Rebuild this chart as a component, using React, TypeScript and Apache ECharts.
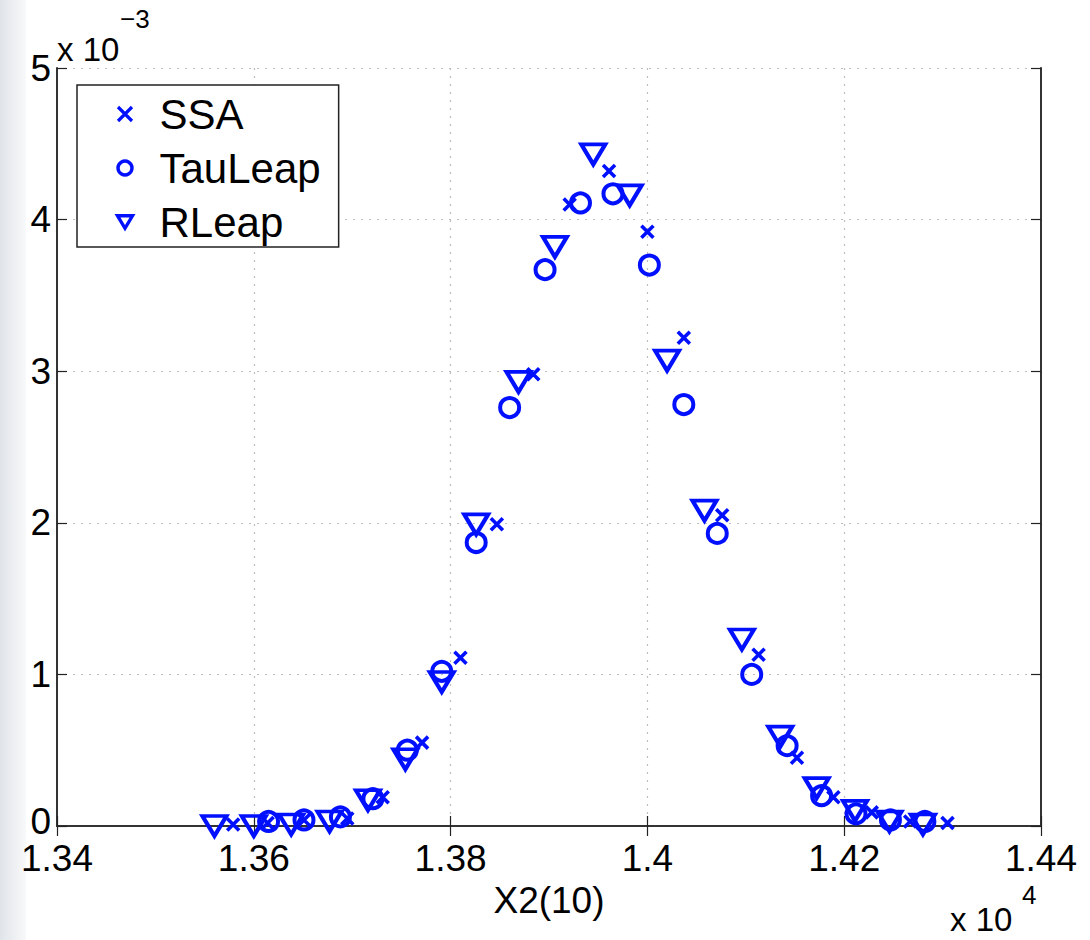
import React, { useEffect, useRef } from "react";
import * as echarts from "echarts";

// x values are in units of 1e4, y values in units of 1e-3 (as on the axes)
const ssaX = [1.3579, 1.3614, 1.3651, 1.3695, 1.3731, 1.3771, 1.381, 1.3847, 1.3884, 1.3921, 1.3961, 1.4, 1.4037, 1.4076, 1.4113, 1.4152, 1.4189, 1.4228, 1.4267, 1.4305];
const ssaY = [0.01, 0.02, 0.04, 0.05, 0.19, 0.55, 1.11, 1.99, 2.98, 4.1, 4.32, 3.92, 3.22, 2.05, 1.13, 0.45, 0.19, 0.09, 0.03, 0.02];

const tauX = [1.3615, 1.3651, 1.3688, 1.3721, 1.3756, 1.3791, 1.3826, 1.386, 1.3896, 1.3932, 1.3965, 1.4002, 1.4037, 1.4071, 1.4106, 1.4142, 1.4177, 1.4212, 1.4247, 1.4282];
const tauY = [0.03, 0.04, 0.06, 0.18, 0.5, 1.02, 1.87, 2.76, 3.67, 4.11, 4.17, 3.7, 2.78, 1.93, 1.0, 0.53, 0.2, 0.08, 0.04, 0.03];

const rleapX = [1.356, 1.36, 1.3638, 1.3677, 1.3716, 1.3754, 1.3791, 1.3826, 1.3869, 1.3906, 1.3945, 1.3982, 1.402, 1.4058, 1.4096, 1.4135, 1.4172, 1.4211, 1.4246, 1.428];
const rleapY = [0.0, 0.0, 0.01, 0.03, 0.17, 0.44, 0.95, 1.99, 2.93, 3.82, 4.43, 4.16, 3.07, 2.08, 1.23, 0.59, 0.25, 0.1, 0.03, 0.01];

const seriesNames = ["SSA", "TauLeap", "RLeap"];
const xAxisName = "X2(10)";
const xMin = 1.34, xMax = 1.44, xStep = 0.02;
const yMin = 0, yMax = 5, yStep = 1;
const yExponent = "x 10";
const yExponentPower = "\u22123";
const xExponent = "x 10";
const xExponentPower = "4";

const BLUE = "#0010ff";
const FONT = "'Liberation Sans', Arial, Helvetica, sans-serif";
const CROSS = "path://M0 0L10 10M10 0L0 10";
const TRI_DOWN = "path://M0 0L12 0L6 10Z";

const zip = (xs: number[], ys: number[]) => xs.map((x, i) => [x, ys[i]]);

export default function App() {
  const ref = useRef<HTMLDivElement>(null);
  useEffect(() => {
    document.body.style.margin = "0";
    const chart = echarts.init(ref.current!, null, { renderer: "svg" });
    const tickCommon = { inside: true, length: 10, lineStyle: { color: "#222", width: 1.2 } };
    const lineCommon = { show: true, lineStyle: { color: "#333", width: 2 } };
    const split = { show: true, lineStyle: { color: "#bdbdbd", type: [2, 6], width: 1.2 } };
    const markStroke = { color: "none", borderColor: BLUE, opacity: 1 };
    chart.setOption({
      animation: false,
      backgroundColor: "#ffffff",
      textStyle: { fontFamily: FONT },
      grid: { left: 57, right: 49, top: 68, bottom: 114, outerBoundsMode: "none", containLabel: false },
      legend: {
        orient: "vertical",
        left: 77,
        top: 85,
        backgroundColor: "#ffffff",
        borderColor: "#222",
        borderWidth: 1.5,
        borderRadius: 0,
        padding: [8, 18, 4, 38],
        itemGap: 12,
        itemWidth: 15,
        itemHeight: 14,
        textStyle: { fontSize: 42, color: "#000", fontFamily: FONT, lineHeight: 38, padding: [0, 0, 0, 22] },
        data: [
          { name: seriesNames[0], icon: CROSS, itemStyle: { ...markStroke, borderWidth: 3.2 } },
          { name: seriesNames[1], icon: "circle", itemStyle: { ...markStroke, borderWidth: 3.4 } },
          { name: seriesNames[2], icon: TRI_DOWN, itemStyle: { ...markStroke, borderWidth: 3.4 } },
        ],
      },
      xAxis: [
        {
          type: "value", min: xMin, max: xMax, interval: xStep, position: "bottom",
          name: xAxisName, nameLocation: "middle", nameGap: 50,
          nameTextStyle: { fontSize: 37, color: "#000", fontFamily: FONT },
          axisLine: lineCommon, axisTick: tickCommon, splitLine: split,
          axisLabel: { fontSize: 37, color: "#000", margin: 14, fontFamily: FONT,
            formatter: (v: number) => String(Number(v.toFixed(2))) },
        },
        {
          type: "value", min: xMin, max: xMax, interval: xStep, position: "top",
          axisLine: lineCommon, axisTick: tickCommon, splitLine: { show: false }, axisLabel: { show: false },
        },
      ],
      yAxis: [
        {
          type: "value", min: yMin, max: yMax, interval: yStep, position: "left",
          axisLine: lineCommon, axisTick: tickCommon, splitLine: split,
          axisLabel: {
            fontSize: 37, color: "#000", margin: 6, fontFamily: FONT, lineHeight: 26,
            formatter: (v: number) => (v === 0 ? "{z|0}" : String(v)),
            rich: { z: { fontSize: 37, lineHeight: 26, padding: [0, 0, 10, 0], fontFamily: FONT, color: "#000" } },
          },
        },
        {
          type: "value", min: yMin, max: yMax, interval: yStep, position: "right",
          axisLine: lineCommon, axisTick: tickCommon, splitLine: { show: false }, axisLabel: { show: false },
        },
      ],
      graphic: [
        {
          type: "rect", left: 0, top: 0, z: -10, silent: true,
          shape: { width: 26, height: 940 },
          style: { fill: new echarts.graphic.LinearGradient(0, 0, 1, 0, [
            { offset: 0, color: "#e0e4e9" }, { offset: 1, color: "#f8f9fa" }]) },
        },
        { type: "text", left: 57, top: 33, style: { text: yExponent, fontSize: 33, fill: "#000", fontFamily: FONT } },
        { type: "text", left: 120, top: 6, style: { text: yExponentPower, fontSize: 26, fill: "#000", fontFamily: FONT } },
        { type: "text", left: 950, top: 903, style: { text: xExponent, fontSize: 33, fill: "#000", fontFamily: FONT } },
        { type: "text", left: 1022, top: 882, style: { text: xExponentPower, fontSize: 26, fill: "#000", fontFamily: FONT } },
      ],
      series: [
        {
          name: seriesNames[0], type: "scatter", data: zip(ssaX, ssaY),
          symbol: CROSS, symbolSize: 12,
          itemStyle: { ...markStroke, borderWidth: 3.6 },
          z: 3,
        },
        {
          name: seriesNames[1], type: "scatter", data: zip(tauX, tauY),
          symbol: "circle", symbolSize: 19,
          itemStyle: { ...markStroke, borderWidth: 4 },
          z: 2,
        },
        {
          name: seriesNames[2], type: "scatter", data: zip(rleapX, rleapY),
          symbol: "triangle", symbolRotate: 180, symbolSize: [24, 20],
          itemStyle: { ...markStroke, borderWidth: 4 },
          z: 2,
        },
      ],
    });
    return () => chart.dispose();
  }, []);
  return <div ref={ref} style={{ width: 1090, height: 940 }} />;
}
